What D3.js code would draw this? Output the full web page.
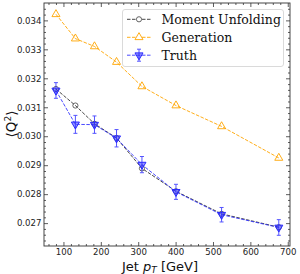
<!DOCTYPE html>
<html><head><meta charset="utf-8">
<script src="https://cdn.jsdelivr.net/npm/d3@7"></script>
<style>body{margin:0;background:#fff}svg{display:block}</style>
</head><body>
<script>
const ptBins = [80, 132, 183, 242, 310, 401, 523, 676];
const momentUnfolding = [0.03163, 0.03106, 0.03043, 0.02994, 0.02889, 0.02810, 0.02732, 0.02686];
const generation = [0.03421, 0.03337, 0.03310, 0.03256, 0.03172, 0.03106, 0.03034, 0.02925];
const truth = [0.03158, 0.03041, 0.03040, 0.02993, 0.02902, 0.02808, 0.02729, 0.02685];
const truthErr = [0.00027, 0.00031, 0.00030, 0.00030, 0.00028, 0.00026, 0.00025, 0.00027];
const xTicks = [100, 200, 300, 400, 500, 600, 700];
const yTicks = [0.027, 0.028, 0.029, 0.030, 0.031, 0.032, 0.033, 0.034];
const legendLabels = ["Moment Unfolding", "Generation", "Truth"];

const W = 300, H = 274;
const m = {l: 44, r: 10, t: 3, b: 28};
const svg = d3.select("body").append("svg").attr("width", W).attr("height", H);
const x = d3.scaleLinear().domain([48, 706]).range([m.l, W - m.r]);
const y = d3.scaleLinear().domain([0.02621, 0.0346]).range([H - m.b, m.t]);

svg.append("defs").append("clipPath").attr("id", "c")
  .append("rect").attr("x", m.l).attr("y", m.t).attr("width", W - m.l - m.r).attr("height", H - m.t - m.b);

const xMinor = d3.range(60, 706, 20).filter(v => v % 100 !== 0);
const yMinor = d3.range(0, 50).map(i => +(0.0262 + i * 0.0002).toFixed(4)).filter(v => v > 0.02621 && v < 0.0346 && Math.abs(v * 1000 - Math.round(v * 1000)) > 1e-6);

const tickFont = "DejaVu Sans, sans-serif";
function styleAxis(g) {
  g.select(".domain").remove();
  g.selectAll(".tick line").attr("stroke", "#333").attr("stroke-width", 0.8);
  g.selectAll(".tick text").attr("font-family", tickFont).attr("font-size", 8.6).attr("fill", "#222");
}
svg.append("g").attr("transform", `translate(0,${H - m.b})`)
  .call(d3.axisBottom(x).tickValues(xTicks).tickSizeInner(-4).tickSizeOuter(0).tickPadding(3).tickFormat(d3.format("d")))
  .call(styleAxis);
svg.append("g").attr("transform", `translate(0,${H - m.b})`)
  .call(d3.axisBottom(x).tickValues(xMinor).tickSizeInner(-2).tickSizeOuter(0).tickFormat(""))
  .call(styleAxis);
svg.append("g").attr("transform", `translate(0,${m.t})`)
  .call(d3.axisTop(x).tickValues(xTicks).tickSizeInner(-4).tickSizeOuter(0).tickFormat(""))
  .call(styleAxis);
svg.append("g").attr("transform", `translate(0,${m.t})`)
  .call(d3.axisTop(x).tickValues(xMinor).tickSizeInner(-2).tickSizeOuter(0).tickFormat(""))
  .call(styleAxis);
svg.append("g").attr("transform", `translate(${m.l},0)`)
  .call(d3.axisLeft(y).tickValues(yTicks).tickSizeInner(-4).tickSizeOuter(0).tickPadding(2.5).tickFormat(d3.format(".3f")))
  .call(styleAxis);
svg.append("g").attr("transform", `translate(${m.l},0)`)
  .call(d3.axisLeft(y).tickValues(yMinor).tickSizeInner(-2).tickSizeOuter(0).tickFormat(""))
  .call(styleAxis);
svg.append("g").attr("transform", `translate(${W - m.r},0)`)
  .call(d3.axisRight(y).tickValues(yTicks).tickSizeInner(-4).tickSizeOuter(0).tickFormat(""))
  .call(styleAxis);
svg.append("g").attr("transform", `translate(${W - m.r},0)`)
  .call(d3.axisRight(y).tickValues(yMinor).tickSizeInner(-2).tickSizeOuter(0).tickFormat(""))
  .call(styleAxis);

svg.append("rect").attr("x", m.l).attr("y", m.t).attr("width", W - m.l - m.r).attr("height", H - m.t - m.b)
  .attr("fill", "none").attr("stroke", "#333").attr("stroke-width", 0.9);

const colMU = "#333333", colGen = "#ffa500", colTruth = "#2a2aff";
const dash = "3.5,1.5";
const line = d3.line().x(d => x(d[0])).y(d => y(d[1]));
const plot = svg.append("g").attr("clip-path", "url(#c)");
const tri = d3.symbol().type(d3.symbolTriangle).size(28);

const muData = ptBins.map((p, i) => [p, momentUnfolding[i]]);
plot.append("path").attr("d", line(muData)).attr("fill", "none").attr("stroke", colMU).attr("stroke-width", 0.9).attr("stroke-dasharray", dash);
plot.selectAll(".mu").data(muData).join("circle").attr("cx", d => x(d[0])).attr("cy", d => y(d[1])).attr("r", 2.6)
  .attr("fill", "none").attr("stroke", "#555").attr("stroke-width", 0.9);

const genData = ptBins.map((p, i) => [p, generation[i]]);
plot.append("path").attr("d", line(genData)).attr("fill", "none").attr("stroke", colGen).attr("stroke-width", 0.9).attr("stroke-dasharray", dash);
plot.selectAll(".gen").data(genData).join("path").attr("d", tri)
  .attr("transform", d => `translate(${x(d[0])},${y(d[1])})`)
  .attr("fill", "none").attr("stroke", colGen).attr("stroke-width", 0.9);

const trData = ptBins.map((p, i) => [p, truth[i], truthErr[i]]);
plot.append("path").attr("d", line(trData)).attr("fill", "none").attr("stroke", colTruth).attr("stroke-width", 1).attr("stroke-dasharray", dash).attr("opacity", 0.85);
const eb = plot.selectAll(".eb").data(trData).join("g").attr("stroke", colTruth).attr("stroke-width", 1).attr("opacity", 0.8);
eb.append("line").attr("x1", d => x(d[0])).attr("x2", d => x(d[0])).attr("y1", d => y(d[1] - d[2])).attr("y2", d => y(d[1] + d[2]));
eb.append("line").attr("x1", d => x(d[0]) - 2).attr("x2", d => x(d[0]) + 2).attr("y1", d => y(d[1] - d[2])).attr("y2", d => y(d[1] - d[2]));
eb.append("line").attr("x1", d => x(d[0]) - 2).attr("x2", d => x(d[0]) + 2).attr("y1", d => y(d[1] + d[2])).attr("y2", d => y(d[1] + d[2]));
plot.selectAll(".tr").data(trData).join("path").attr("d", tri)
  .attr("transform", d => `translate(${x(d[0])},${y(d[1])}) rotate(180)`)
  .attr("fill", colTruth).attr("fill-opacity", 0.5).attr("stroke", colTruth).attr("stroke-width", 1);

const lg = svg.append("g");
lg.append("rect").attr("x", 122.5).attr("y", 9.5).attr("width", 161).attr("height", 57).attr("rx", 2.5)
  .attr("fill", "#fff").attr("fill-opacity", 0.85).attr("stroke", "#d6d6d6").attr("stroke-width", 0.9);
const rows = [19.3, 37.3, 55.2];
const lx0 = 127, lx1 = 151, lxm = 139;
lg.append("line").attr("x1", lx0).attr("x2", lx1).attr("y1", rows[0]).attr("y2", rows[0]).attr("stroke", colMU).attr("stroke-width", 0.9).attr("stroke-dasharray", dash);
lg.append("circle").attr("cx", lxm).attr("cy", rows[0]).attr("r", 2.6).attr("fill", "#fff").attr("stroke", "#555").attr("stroke-width", 0.9);
lg.append("line").attr("x1", lx0).attr("x2", lx1).attr("y1", rows[1]).attr("y2", rows[1]).attr("stroke", colGen).attr("stroke-width", 0.9).attr("stroke-dasharray", dash);
lg.append("path").attr("d", tri).attr("transform", `translate(${lxm},${rows[1]})`).attr("fill", "#fff").attr("stroke", colGen).attr("stroke-width", 0.9);
lg.append("line").attr("x1", lx0).attr("x2", lx1).attr("y1", rows[2]).attr("y2", rows[2]).attr("stroke", colTruth).attr("stroke-width", 1).attr("stroke-dasharray", dash).attr("opacity", 0.85);
const lt = lg.append("g").attr("stroke", colTruth).attr("stroke-width", 1).attr("opacity", 0.8);
lt.append("line").attr("x1", lxm).attr("x2", lxm).attr("y1", rows[2] - 6).attr("y2", rows[2] + 6);
lt.append("line").attr("x1", lxm - 2).attr("x2", lxm + 2).attr("y1", rows[2] - 6).attr("y2", rows[2] - 6);
lt.append("line").attr("x1", lxm - 2).attr("x2", lxm + 2).attr("y1", rows[2] + 6).attr("y2", rows[2] + 6);
lg.append("path").attr("d", tri).attr("transform", `translate(${lxm},${rows[2]}) rotate(180)`).attr("fill", colTruth).attr("fill-opacity", 0.5).attr("stroke", colTruth).attr("stroke-width", 1);

lg.selectAll(".lt").data(legendLabels).join("text").attr("x", 161.5).attr("y", (d, i) => rows[i] + 4.3)
  .attr("font-family", "DejaVu Serif, serif").attr("font-size", 12.5).attr("fill", "#111").text(d => d);

const xl = svg.append("text").attr("x", 160).attr("y", 270.5).attr("text-anchor", "middle")
  .attr("font-family", tickFont).attr("font-size", 13).attr("fill", "#111");
xl.append("tspan").text("Jet ");
xl.append("tspan").attr("font-style", "italic").text("p");
xl.append("tspan").attr("font-style", "italic").attr("font-size", 9).attr("dy", 2.5).text("T");
xl.append("tspan").attr("dy", -2.5).text(" [GeV]");

const yl = svg.append("text").attr("transform", `translate(16,124) rotate(-90)`).attr("text-anchor", "middle")
  .attr("font-family", tickFont).attr("font-size", 13.5).attr("fill", "#111");
yl.append("tspan").text("⟨Q");
yl.append("tspan").attr("font-size", 9).attr("dy", -5).text("2");
yl.append("tspan").attr("dy", 5).text("⟩");
</script>
</body></html>
